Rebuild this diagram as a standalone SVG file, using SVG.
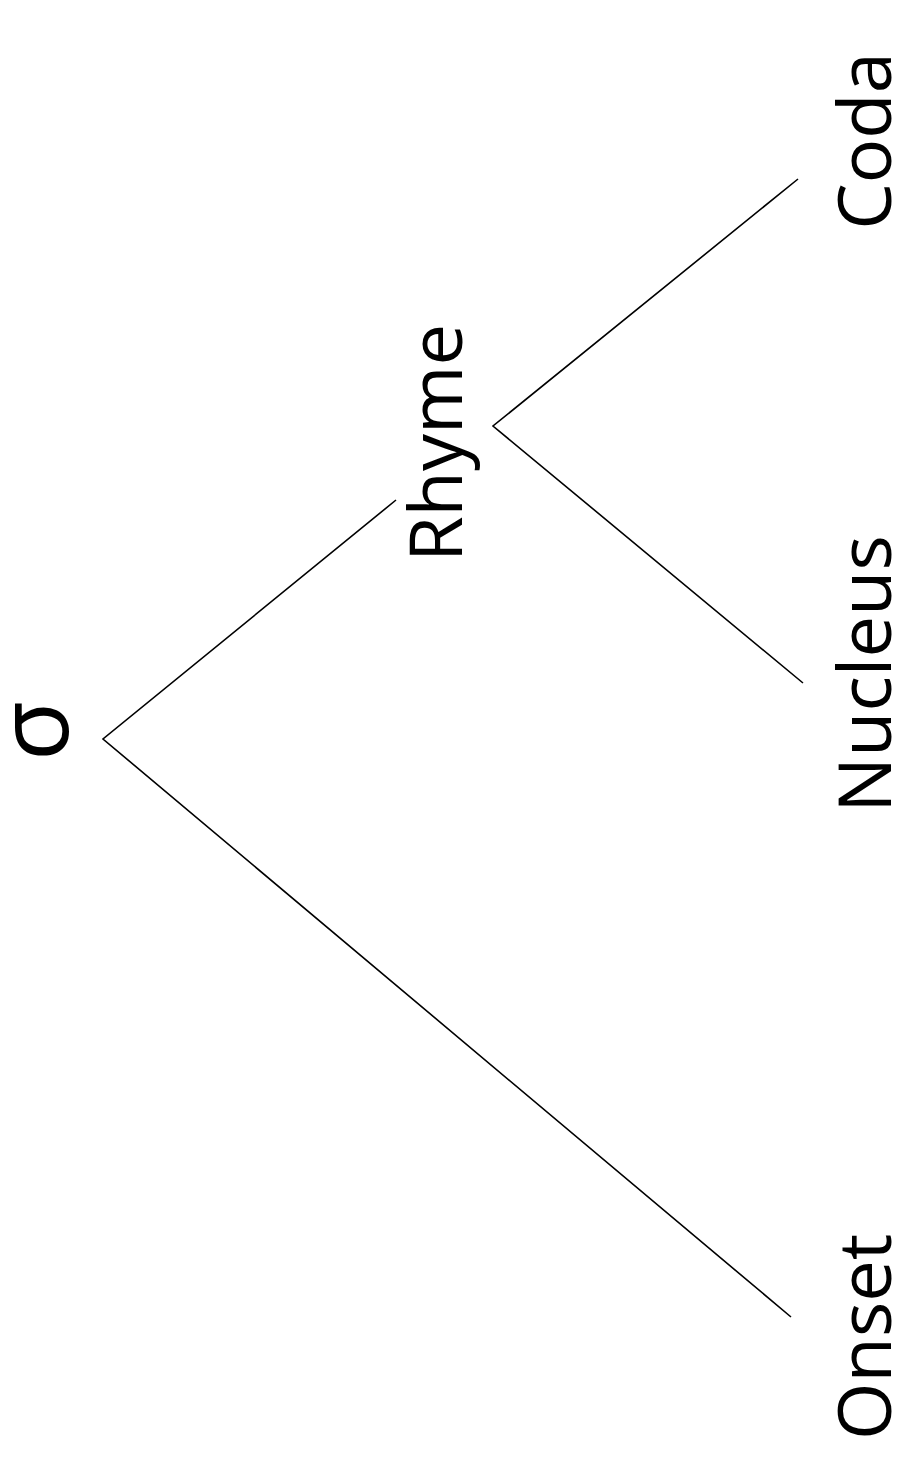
<svg xmlns="http://www.w3.org/2000/svg" width="900" height="1457" viewBox="0 0 900 1457">
<style>
.lbl{font-family:"Open Sans","Liberation Sans",sans-serif;font-size:74px;fill:#000;text-anchor:middle}
.big{font-size:98px}
.edge{stroke:#000;stroke-width:1.6;fill:none}
</style>
<rect width="900" height="1457" fill="#fff"/>
<g id="connectors">
<polyline class="edge" points="396,500 103,739 791,1317"/>
<polyline class="edge" points="798,179 493,426 803,683"/>
</g>
<g id="sigma"><text class="lbl big" transform="translate(68,731) rotate(-90)">σ</text></g>
<g id="rhyme"><text class="lbl" transform="translate(462,443) rotate(-90)">Rhyme</text></g>
<g id="coda"><text class="lbl" transform="translate(891,141) rotate(-90)">Coda</text></g>
<g id="nucleus"><text class="lbl" transform="translate(891,674) rotate(-90)">Nucleus</text></g>
<g id="onset"><text class="lbl" transform="translate(891,1337) rotate(-90)">Onset</text></g>
</svg>
